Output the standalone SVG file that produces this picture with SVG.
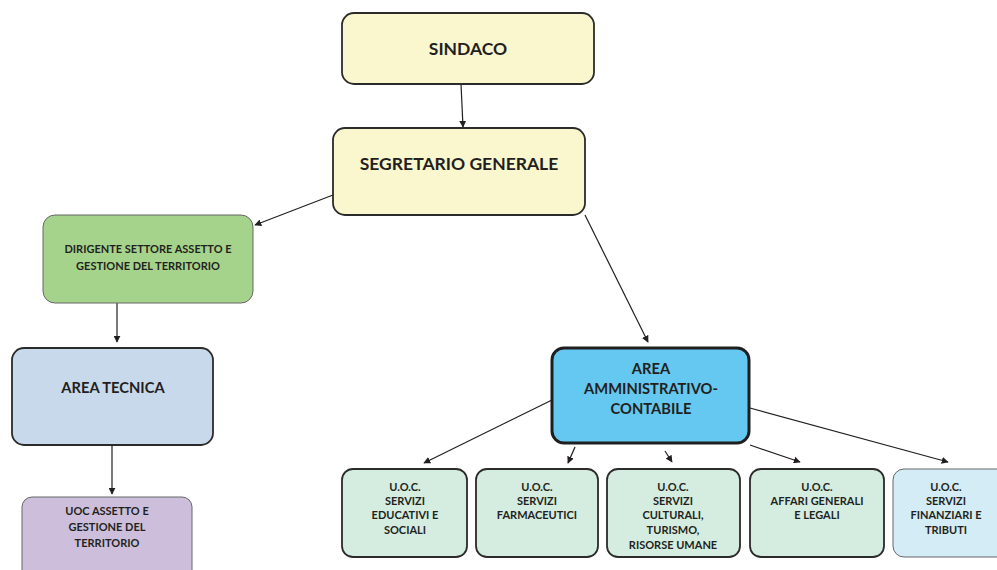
<svg xmlns="http://www.w3.org/2000/svg" width="997" height="570" viewBox="0 0 997 570">
<defs>
<marker id="ah" viewBox="0 0 10 10" refX="9" refY="5" markerWidth="7" markerHeight="7" markerUnits="userSpaceOnUse" orient="auto">
<path d="M0,0 L10,5 L0,10 z" fill="#231f20"/>
</marker>
</defs>
<style>
.box{stroke:#2b2b2b;stroke-width:1.8}
.thin{stroke:#666;stroke-width:1}
.t{font-family:Lato,"Open Sans","Liberation Sans",sans-serif;fill:#231f20;text-anchor:middle;font-weight:bold}
.big{font-size:17.5px}
.mid{font-size:14.7px}
.sm{font-size:11px}
.con line{stroke:#231f20;stroke-width:1.2;marker-end:url(#ah)}
</style>
<rect width="997" height="570" fill="#ffffff"/>
<g class="con">
<line x1="461" y1="84" x2="463" y2="127"/>
<line x1="333" y1="195" x2="255" y2="225"/>
<line x1="117" y1="303" x2="117" y2="342"/>
<line x1="585" y1="215" x2="648" y2="342"/>
<line x1="112" y1="445" x2="112" y2="494"/>
<line x1="552" y1="400" x2="424" y2="463"/>
<line x1="575" y1="447" x2="568" y2="463"/>
<line x1="665" y1="451" x2="672" y2="462"/>
<line x1="750" y1="445" x2="800" y2="462"/>
<line x1="750" y1="408" x2="948" y2="462"/>
</g>
<g id="sindaco">
<rect class="box" x="342" y="13" width="252" height="71" rx="12" fill="#faf7cf"/>
<text class="t big" x="468" y="55">SINDACO</text>
</g>
<g id="segretario">
<rect class="box" x="333" y="128" width="252" height="87" rx="12" fill="#faf7cf"/>
<text class="t big" x="459" y="170">SEGRETARIO GENERALE</text>
</g>
<g id="dirigente">
<rect class="thin" x="43" y="215" width="210" height="88" rx="12" fill="#a6d38b"/>
<text class="t sm" x="148" y="253">DIRIGENTE SETTORE ASSETTO E</text>
<text class="t sm" x="148" y="270">GESTIONE DEL TERRITORIO</text>
</g>
<g id="area-tecnica">
<rect class="box" x="12" y="348" width="201" height="97" rx="12" fill="#c9d9ec"/>
<text class="t mid" x="113" y="393">AREA TECNICA</text>
</g>
<g id="uoc-assetto">
<rect class="thin" x="22" y="497" width="170" height="85" rx="10" fill="#cdbfdc"/>
<text class="t sm" x="107" y="515">UOC ASSETTO E</text>
<text class="t sm" x="107" y="531">GESTIONE DEL</text>
<text class="t sm" x="107" y="547">TERRITORIO</text>
</g>
<g id="area-amm">
<rect x="552" y="348" width="197" height="95" rx="12" fill="#64c8f0" stroke="#1f1f1f" stroke-width="3"/>
<text class="t mid" x="651" y="374">AREA</text>
<text class="t mid" x="651" y="394">AMMINISTRATIVO-</text>
<text class="t mid" x="651" y="414">CONTABILE</text>
</g>
<g id="uoc-educativi">
<rect class="box" x="342" y="469" width="125" height="88" rx="11" fill="#d4ede0"/>
<text class="t sm" x="405" y="491">U.O.C.</text>
<text class="t sm" x="405" y="505">SERVIZI</text>
<text class="t sm" x="405" y="519">EDUCATIVI E</text>
<text class="t sm" x="405" y="534">SOCIALI</text>
</g>
<g id="uoc-farmaceutici">
<rect class="box" x="476" y="469" width="122" height="88" rx="11" fill="#d4ede0"/>
<text class="t sm" x="537" y="491">U.O.C.</text>
<text class="t sm" x="537" y="505">SERVIZI</text>
<text class="t sm" x="537" y="519">FARMACEUTICI</text>
</g>
<g id="uoc-culturali">
<rect class="box" x="607" y="469" width="133" height="88" rx="11" fill="#d4ede0"/>
<text class="t sm" x="673" y="491">U.O.C.</text>
<text class="t sm" x="673" y="505">SERVIZI</text>
<text class="t sm" x="673" y="519">CULTURALI,</text>
<text class="t sm" x="673" y="534">TURISMO,</text>
<text class="t sm" x="673" y="549">RISORSE UMANE</text>
</g>
<g id="uoc-affari">
<rect class="box" x="750" y="469" width="134" height="88" rx="11" fill="#d4ede0"/>
<text class="t sm" x="817" y="491">U.O.C.</text>
<text class="t sm" x="817" y="505">AFFARI GENERALI</text>
<text class="t sm" x="817" y="519">E LEGALI</text>
</g>
<g id="uoc-finanziari">
<rect class="thin" x="893" y="469" width="120" height="88" rx="11" fill="#d3ecf5"/>
<text class="t sm" x="946" y="491">U.O.C.</text>
<text class="t sm" x="946" y="505">SERVIZI</text>
<text class="t sm" x="946" y="519">FINANZIARI E</text>
<text class="t sm" x="946" y="534">TRIBUTI</text>
</g>
</svg>
